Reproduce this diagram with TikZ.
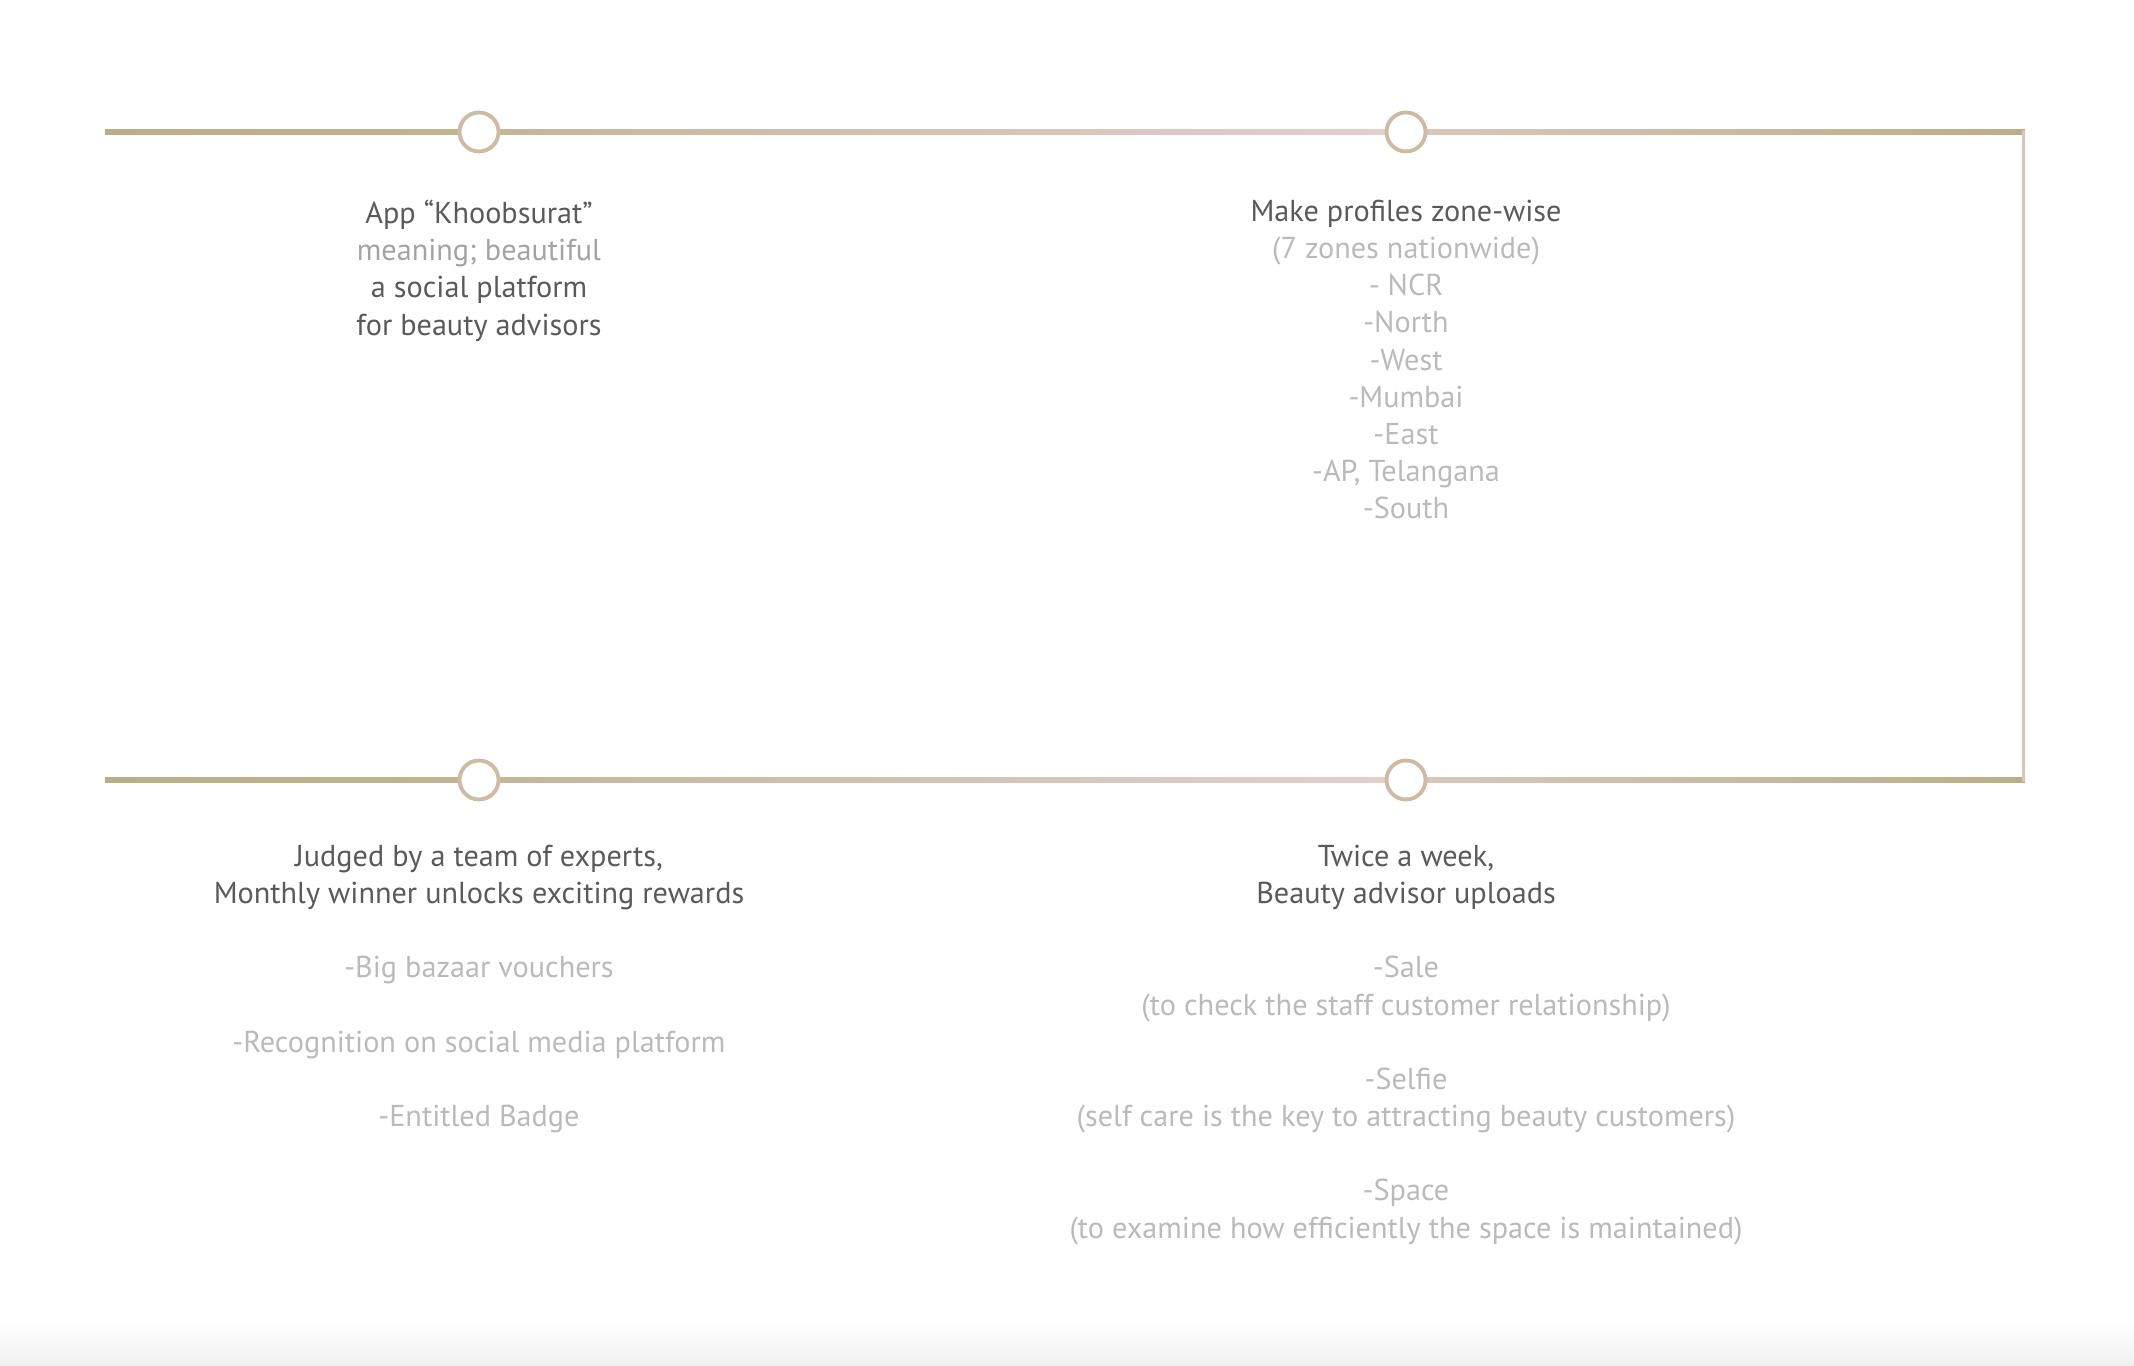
\documentclass[tikz,border=0pt]{standalone}
\usepackage{fontspec}
\setmainfont{PT Sans}
\usetikzlibrary{positioning,calc,backgrounds}

\definecolor{gold}{HTML}{BBAD85}
\definecolor{blush}{HTML}{EBD6DD}
\definecolor{ringcol}{HTML}{CDBBA3}
\definecolor{edge}{HTML}{D6C5B8}
\definecolor{darktext}{HTML}{5A5A5A}
\definecolor{midtext}{HTML}{A3A3A3}
\definecolor{lighttext}{HTML}{BABABA}

\begin{document}
\begin{tikzpicture}[
    stop/.style={circle, draw=ringcol, line width=1.1pt, fill=white, minimum size=0.39cm, inner sep=0pt},
    info/.style={align=center, inner sep=0pt, text=lighttext, font=\fontsize{8.6}{10.57}\selectfont}]
    \useasboundingbox (0,0) rectangle (21.34,13.66);

    % timeline ends
    \coordinate (topstart) at (1.05,12.34);
    \coordinate (topend) at (20.25,12.34);
    \coordinate (botstart) at (1.05,5.86);
    \coordinate (botend) at (20.25,5.86);

    % stops
    \node[stop] (appstop) at (4.79,12.34) {};
    \node[stop] (zonestop) at (14.06,12.34) {};
    \node[stop] (rewardstop) at (4.79,5.86) {};
    \node[stop] (uploadstop) at (14.06,5.86) {};

    % texts
    \node[info, below=0.46cm of appstop] (apptext) {\textcolor{darktext}{App “Khoobsurat”}\\
        \textcolor{midtext}{meaning; beautiful}\\
        \textcolor{darktext}{a social platform}\\
        \textcolor{darktext}{for beauty advisors}};
    \node[info, below=0.46cm of zonestop] (zonetext) {\textcolor{darktext}{Make profiles zone-wise}\\
        (7 zones nationwide)\\ - NCR\\ -North\\ -West\\ -Mumbai\\ -East\\ -AP, Telangana\\ -South};
    \node[info, below=0.43cm of rewardstop] (rewardtext) {\textcolor{darktext}{Judged by a team of experts,}\\
        \textcolor{darktext}{Monthly winner unlocks exciting rewards}\\[10.57pt]
        -Big bazaar vouchers\\[10.57pt]
        -Recognition on social media platform\\[10.57pt]
        -Entitled Badge};
    \node[info, below=0.43cm of uploadstop] (uploadtext) {\textcolor{darktext}{Twice a week,}\\
        \textcolor{darktext}{Beauty advisor uploads}\\[10.57pt]
        -Sale\\ (to check the staff customer relationship)\\[10.57pt]
        -Selfie\\ (self care is the key to attracting beauty customers)\\[10.57pt]
        -Space\\ (to examine how efficiently the space is maintained)};

    \begin{scope}[on background layer]
        \shade[top color=white, bottom color=black!6] (0,0) rectangle (21.34,0.45);
        % rails
        \shade[left color=gold, right color=gold!85!blush] ($(topstart)+(0,-0.65pt)$) rectangle ($(appstop.center)+(0,0.65pt)$);
        \shade[left color=gold!80!blush, middle color=blush, right color=blush!85!gold] ($(appstop.center)+(0,-0.65pt)$) rectangle ($(zonestop.center)+(0,0.65pt)$);
        \shade[left color=blush!65!gold, right color=gold] ($(zonestop.center)+(0,-0.65pt)$) rectangle ($(topend)+(0,0.65pt)$);
        \shade[left color=gold, right color=gold!85!blush] ($(botstart)+(0,-0.65pt)$) rectangle ($(rewardstop.center)+(0,0.65pt)$);
        \shade[left color=gold!80!blush, middle color=blush, right color=blush!85!gold] ($(rewardstop.center)+(0,-0.65pt)$) rectangle ($(uploadstop.center)+(0,0.65pt)$);
        \shade[left color=blush!65!gold, right color=gold] ($(uploadstop.center)+(0,-0.65pt)$) rectangle ($(botend)+(0,0.65pt)$);
        \draw[edge, line width=0.8pt] ($(topend)+(-0.4pt,0.65pt)$) -- ($(botend)+(-0.4pt,-0.65pt)$);
    \end{scope}
\end{tikzpicture}
\end{document}
